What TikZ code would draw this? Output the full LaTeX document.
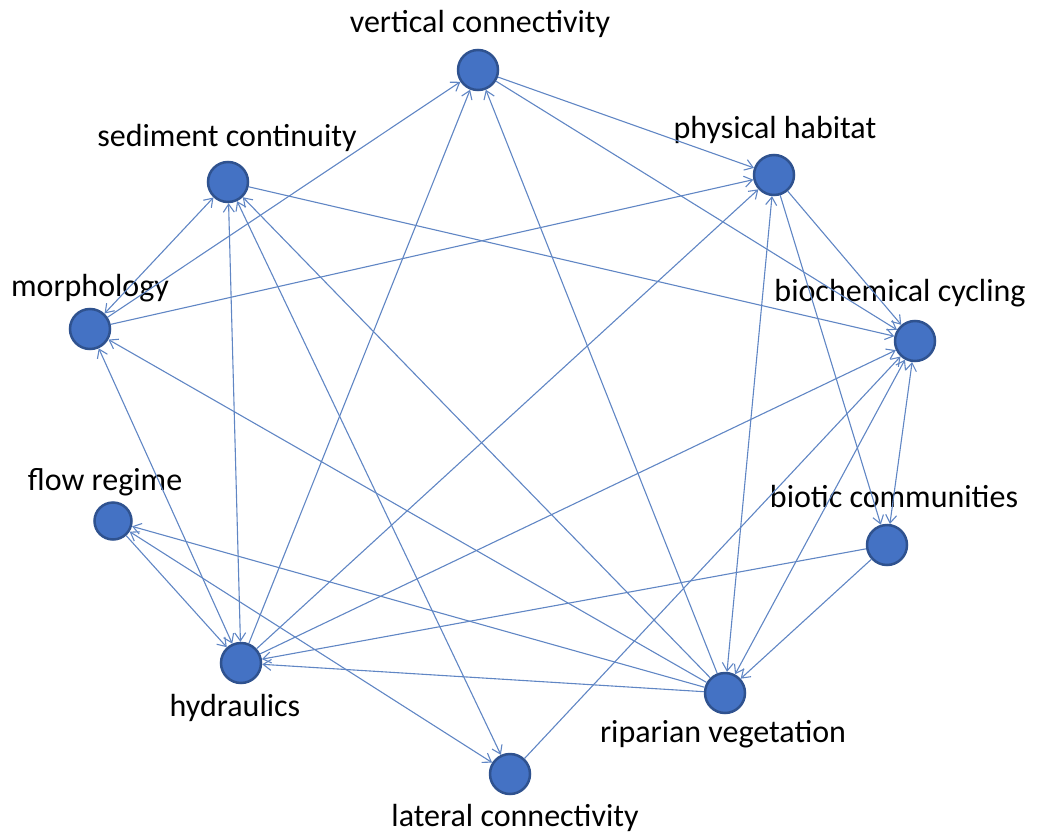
\documentclass[tikz,border=0pt]{standalone}
\usepackage{fontspec}
\setmainfont{Carlito}
\usetikzlibrary{arrows.meta,calc}
\definecolor{nodefill}{HTML}{4472C4}
\definecolor{nodeline}{HTML}{2F528F}
\definecolor{edgeblue}{HTML}{6086C4}
\begin{document}
\begin{tikzpicture}[x=1pt,y=-1pt,
  vert/.style={circle,fill=nodefill,draw=nodeline,line width=2.5pt,minimum size=40pt,inner sep=0pt},
  lbl/.style={font=\fontsize{32}{38}\selectfont,anchor=base,inner sep=0pt},
  link/.style={draw=edgeblue,line width=1.1pt,-{Straight Barb[length=8pt,width=11pt]}},
  mutual/.style={draw=edgeblue,line width=1.1pt,{Straight Barb[length=8pt,width=11pt]}-{Straight Barb[length=8pt,width=11pt]}},
]
\useasboundingbox (0,0) rectangle (1048,834);

% vertices
\node[vert] (vc) at (478,70) {};
\node[vert] (ph) at (774,175) {};
\node[vert] (sc) at (228,182) {};
\node[vert] (mo) at (90,329) {};
\node[vert] (bc) at (915,341) {};
\node[vert,minimum size=37pt] (fl) at (113,521) {};
\node[vert] (bi) at (887,545) {};
\node[vert] (hy) at (241,663) {};
\node[vert] (ri) at (725,693) {};
\node[vert] (la) at (510,774) {};

% labels
\node[lbl] (tvc) at (480,33) {vertical connectivity};
\node[lbl] (tph) at (775,139) {physical habitat};
\node[lbl] (tsc) at (227,147) {sediment continuity};
\node[lbl] (tmo) at (90,296) {morphology};
\node[lbl] (tbc) at (900,301) {biochemical cycling};
\node[lbl] (tfl) at (105,490) {flow regime};
\node[lbl] (tbi) at (894,507) {biotic communities};
\node[lbl] (thy) at (235,716) {hydraulics};
\node[lbl] (tri) at (723,742) {riparian vegetation};
\node[lbl] (tla) at (515,826) {lateral connectivity};

% one-way influences
\draw[link] (vc) -- (ph);
\draw[link] (vc) -- (bc);
\draw[link] (mo) -- (vc);
\draw[link] (hy) -- (vc);
\draw[link] (ri) -- (vc);
\draw[link] (mo) -- (ph);
\draw[link] (hy) -- (ph);
\draw[link] (ph) -- (bi);
\draw[link] (ph) -- (bc);
\draw[link] (sc) -- (bc);
\draw[link] (ri) -- (sc);
\draw[link] (ri) -- (mo);
\draw[link] (fl) -- (hy);
\draw[link] (ri) -- (fl);
\draw[link] (hy) -- (bc);
\draw[link] (bi) -- (hy);
\draw[link] (ri) -- (hy);
\draw[link] (la) -- (bc);
\draw[link] (bi) -- (ri);

% two-way influences
\draw[mutual] (ph) -- (ri);
\draw[mutual] (sc) -- (mo);
\draw[mutual] (sc) -- (hy);
\draw[mutual] (sc) -- (la);
\draw[mutual] (mo) -- (hy);
\draw[mutual] (ri) -- (bc);
\draw[mutual] (bi) -- (bc);
\draw[mutual] (fl) -- (la);
\end{tikzpicture}
\end{document}
